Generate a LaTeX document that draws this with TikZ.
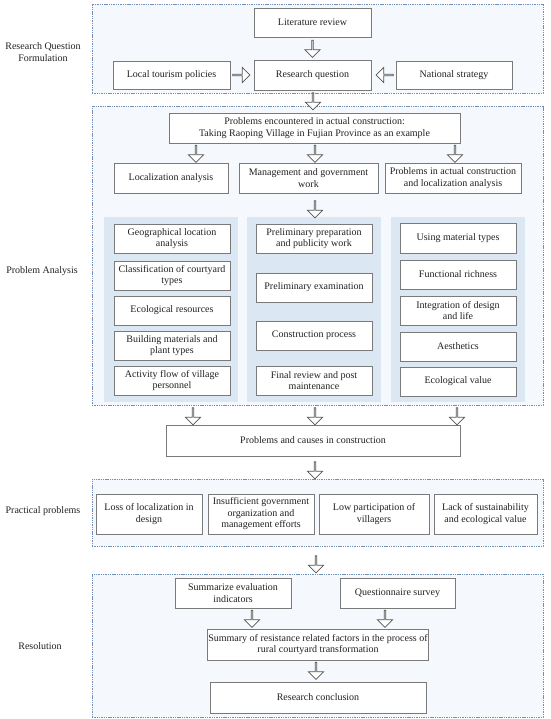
\documentclass[tikz,border=0pt]{standalone}
\usepackage{fontspec}
\setmainfont{Liberation Serif}
\usetikzlibrary{shapes.arrows,calc}
\definecolor{dashblue}{HTML}{6F8FB8}
\definecolor{groupfill}{HTML}{F5F8FC}
\definecolor{panelfill}{HTML}{DCE7F4}
\definecolor{boxline}{HTML}{7A7A7A}
\definecolor{arrline}{HTML}{555555}
\definecolor{txt}{HTML}{222222}
\tikzset{
  group/.style={draw=dashblue, fill=groupfill, line width=0.8pt, dash pattern=on 1.4pt off 0.9pt, inner sep=0pt},
  panel/.style={fill=panelfill, draw=none, inner sep=0pt},
  box/.style={draw=boxline, fill=white, line width=0.8pt, inner sep=1pt, align=center, font=\fontsize{10}{11.5}\selectfont, text=txt},
  lab/.style={align=center, font=\fontsize{10}{11.5}\selectfont, text=txt},
  blockarrow/.style={single arrow, draw=arrline, fill=white, line width=0.7pt, minimum width=15pt, minimum height=17pt, single arrow head extend=3.5pt, single arrow head indent=0pt, inner sep=0pt, outer sep=0pt}
}
% name, x1, x2, y1, y2, text
\newcommand{\mybox}[6]{\node[box, minimum width={(#3)-(#2)}, minimum height={(#5)-(#4)}] (#1) at ({((#2)+(#3))/2},{((#4)+(#5))/2}) {#6};}
\newcommand{\mygroup}[6]{\node[#6, minimum width={(#3)-(#2)}, minimum height={(#5)-(#4)}] (#1) at ({((#2)+(#3))/2},{((#4)+(#5))/2}) {};}
% name, x, y, direction angle
\newcommand{\myarrow}[4]{\node[blockarrow, shape border rotate=#4] (#1) at (#2,#3) {};}
\begin{document}
\begin{tikzpicture}[x=1pt,y=-1pt]
\useasboundingbox (0,0) rectangle (550,719);
\fill[white] (0,0) rectangle (550,719);

% groups
\mygroup{g1}{92}{543}{4}{93}{group}
\mygroup{g2}{92}{543}{106}{405}{group}
\mygroup{g3}{92}{543}{479}{546}{group}
\mygroup{g4}{92}{543}{574}{717}{group}

% panels
\mygroup{p1}{104}{238}{217}{402}{panel}
\mygroup{p2}{247}{381}{217}{402}{panel}
\mygroup{p3}{391}{525}{217}{402}{panel}

% side labels
\node[lab] (l1) at (43,52) {Research Question\\Formulation};
\node[lab] (l2) at (42,271) {Problem Analysis};
\node[lab] (l3) at (43,511) {Practical problems};
\node[lab] (l4) at (40,646) {Resolution};

% group 1
\mybox{lit}{254}{371}{8}{37}{Literature review}
\mybox{rq}{254}{371}{60}{90}{Research question}
\mybox{ltp}{113}{230}{61}{89}{Local tourism policies}
\mybox{ns}{396}{512}{61}{89}{National strategy}

% group 2
\mybox{pe}{169}{460}{113}{143}{Problems encountered in actual construction:\\Taking Raoping Village in Fujian Province as an example}
\mybox{la}{114}{228}{163}{193}{Localization analysis}
\mybox{mg}{239}{378}{163}{193}{Management and government\\work}
\mybox{pa}{385}{521}{163}{193}{Problems in actual construction\\and localization analysis}

\mybox{a1}{114}{230}{224}{253}{Geographical location\\analysis}
\mybox{a2}{114}{230}{261}{290}{Classification of courtyard\\types}
\mybox{a3}{114}{230}{296}{325}{Ecological resources}
\mybox{a4}{114}{230}{331}{360}{Building materials and\\plant types}
\mybox{a5}{114}{230}{366}{395}{Activity flow of village\\personnel}

\mybox{b1}{256}{372}{224}{253}{Preliminary preparation\\and publicity work}
\mybox{b2}{256}{372}{273}{302}{Preliminary examination}
\mybox{b3}{256}{372}{321}{350}{Construction process}
\mybox{b4}{256}{372}{366}{395}{Final review and post\\maintenance}

\mybox{c1}{400}{516}{223}{253}{Using material types}
\mybox{c2}{400}{516}{260}{289}{Functional richness}
\mybox{c3}{400}{516}{296}{325}{Integration of design\\and life}
\mybox{c4}{400}{516}{332}{361}{Aesthetics}
\mybox{c5}{400}{516}{367}{396}{Ecological value}

% middle
\mybox{pc}{166}{460}{425}{456}{Problems and causes in construction}

% group 3
\mybox{d1}{96}{202}{494}{534}{Loss of localization in\\design}
\mybox{d2}{208}{314}{494}{534}{Insufficient government\\organization and\\management efforts}
\mybox{d3}{319}{429}{494}{534}{Low participation of\\villagers}
\mybox{d4}{434}{537}{494}{534}{Lack of sustainability\\and ecological value}

% group 4
\mybox{sei}{175}{291}{578}{608}{Summarize evaluation\\indicators}
\mybox{qs}{340}{455}{578}{608}{Questionnaire survey}
\mybox{sr}{210}{426}{629}{660}{Summary of resistance related factors in the process of\\rural courtyard transformation}
\mybox{rc}{210}{426}{682}{713}{Research conclusion}

% block arrows
\myarrow{ar1}{312.5}{48.5}{270}
\myarrow{ar2}{241}{75}{0}
\myarrow{ar3}{385}{75}{180}
\myarrow{ar4}{313}{101}{270}
\myarrow{ar5}{196}{153.5}{270}
\myarrow{ar6}{315}{153.5}{270}
\myarrow{ar7}{455}{153.5}{270}
\myarrow{ar8}{315}{209}{270}
\myarrow{ar9}{193}{416}{270}
\myarrow{ar10}{315}{416}{270}
\myarrow{ar11}{457}{416}{270}
\myarrow{ar12}{315}{470}{270}
\myarrow{ar13}{316}{564}{270}
\myarrow{ar14}{252}{618.5}{270}
\myarrow{ar15}{385}{618.5}{270}
\myarrow{ar16}{316}{670.5}{270}
\end{tikzpicture}
\end{document}
